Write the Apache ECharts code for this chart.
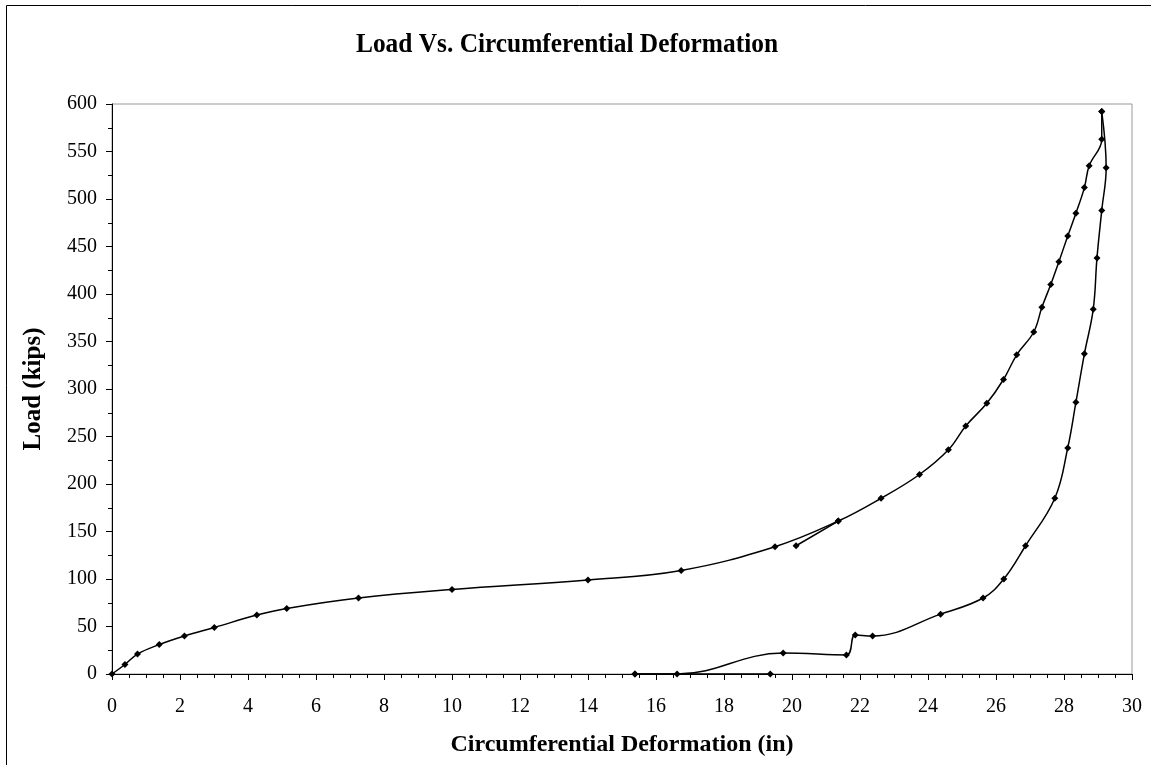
<!DOCTYPE html>
<html>
<head>
<meta charset="utf-8">
<script src="https://cdn.jsdelivr.net/npm/echarts@6/dist/echarts.min.js"></script>
<style>
html,body{margin:0;padding:0;background:#fff;}
#chart{width:1151px;height:765px;}
</style>
</head>
<body>
<div id="chart"></div>
<script>
// Loading branch: [deformation (in), load (kips)]
const loadingCurve = [
  [0,0],[0.38,10],[0.75,21],[1.39,31],[2.13,40],[3.01,49],[4.26,62],[5.14,69],
  [7.25,80],[10.0,89],[14.0,99],[16.74,109],[19.5,134],[21.36,161],[22.62,185],
  [23.75,210],[24.6,236],[25.11,261],[25.73,285],[26.22,310],[26.61,336],
  [27.11,360],[27.35,386],[27.61,410],[27.85,434],[28.11,461],[28.35,485],
  [28.6,512],[28.74,535],[29.11,563],[29.11,592]
];
// Short relaxation spur
const spurCurve = [[21.36,161],[20.12,135]];
// Unloading branch
const unloadingCurve = [
  [29.11,592],[29.24,533],[29.11,488],[28.97,438],[28.86,384],[28.6,337],
  [28.35,286],[28.11,238],[27.73,185],[26.87,135],[26.23,100],[25.62,80],
  [24.37,63],[22.37,40],[21.86,41],[21.6,20],[19.74,22],[16.62,0],[15.38,0]
];
const tailCurve = [[15.38,0],[19.36,0]];

const xTicks = {min:0, max:30, interval:2};
const yTicks = {min:0, max:600, interval:50};

const titleText = 'Load Vs. Circumferential Deformation';
const xName = 'Circumferential Deformation (in)';
const yName = 'Load (kips)';

const FONT = '"Liberation Serif", "DejaVu Serif", serif';

const chart = echarts.init(document.getElementById('chart'));

function lineSeries(data, smooth){
  return {
    type:'line', data:data, smooth:smooth,
    symbol:'diamond', symbolSize:7,
    lineStyle:{color:'#000', width:1.5},
    itemStyle:{color:'#000'},
    animation:false
  };
}

chart.setOption({
  backgroundColor:'#fff',
  animation:false,
  grid:{left:112, top:104, right:19, bottom:91, show:true, borderColor:'#999', borderWidth:1},
  xAxis:{
    type:'value', min:xTicks.min, max:xTicks.max, interval:xTicks.interval,
    name:xName, nameLocation:'middle', nameGap:59,
    nameTextStyle:{fontFamily:FONT, fontWeight:'bold', fontSize:24, color:'#000'},
    axisLine:{show:true, lineStyle:{color:'#000', width:1}},
    axisTick:{show:true, inside:false, length:6, lineStyle:{color:'#000'}},
    minorTick:{show:true, splitNumber:4, length:4, lineStyle:{color:'#000'}},
    axisLabel:{fontFamily:FONT, fontSize:20, color:'#000', margin:23},
    splitLine:{show:false}
  },
  yAxis:{
    type:'value', min:yTicks.min, max:yTicks.max, interval:yTicks.interval,
    name:yName, nameLocation:'middle', nameGap:66, nameRotate:90,
    nameTextStyle:{fontFamily:FONT, fontWeight:'bold', fontSize:25, color:'#000'},
    axisLine:{show:true, lineStyle:{color:'#000', width:1}},
    axisTick:{show:true, inside:false, length:6, lineStyle:{color:'#000'}},
    minorTick:{show:true, splitNumber:2, length:4, lineStyle:{color:'#000'}},
    axisLabel:{fontFamily:FONT, fontSize:20, color:'#000', margin:15},
    splitLine:{show:false}
  },
  graphic:[
    {type:'rect', shape:{x:6.5, y:5.5, width:1200, height:800}, style:{fill:null, stroke:'#000', lineWidth:1}, silent:true, z:-10},
    {type:'text', x:567, y:45, style:{text:titleText, font:'bold 27px "Liberation Serif", serif', fill:'#000', align:'center', verticalAlign:'middle'}, scaleX:0.94}
  ],
  series:[
    lineSeries(loadingCurve, 0.4),
    lineSeries(spurCurve, false),
    lineSeries(unloadingCurve, 0.4),
    lineSeries(tailCurve, false)
  ]
});
</script>
</body>
</html>
